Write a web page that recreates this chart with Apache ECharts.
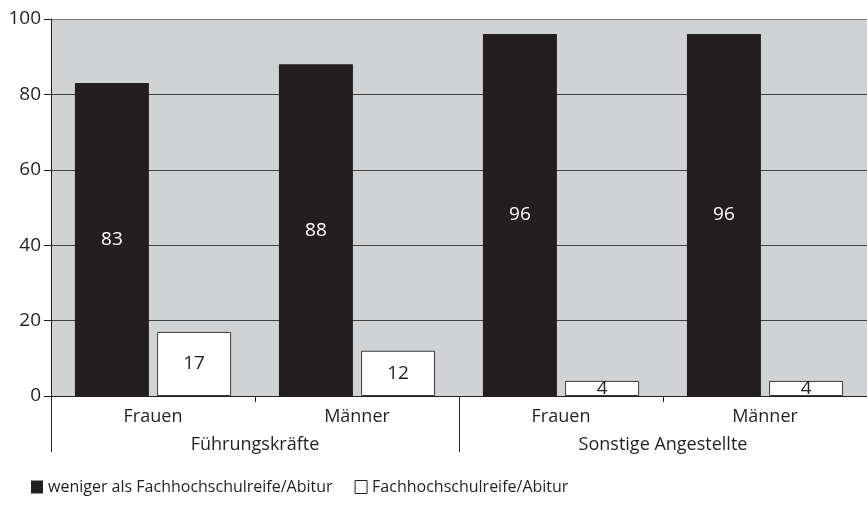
<!DOCTYPE html>
<html><head><meta charset="utf-8">
<script src="https://cdn.jsdelivr.net/npm/echarts@6/dist/echarts.min.js"></script>
<style>html,body{margin:0;padding:0;background:#fff}#c{width:867px;height:515px}</style>
</head><body><div id="c"></div>
<script>
const categories = ['Frauen', 'Männer', 'Frauen', 'Männer'];
const groups = ['Führungskräfte', 'Sonstige Angestellte'];
const seriesNames = ['weniger als Fachhochschulreife/Abitur', 'Fachhochschulreife/Abitur'];
const lowerValues = [83, 88, 96, 96];
const higherValues = [17, 12, 4, 4];

const FONT = 'Open Sans';
const INK = '#231f20';
const chart = echarts.init(document.getElementById('c'));
chart.setOption({
  animation: false,
  textStyle: { fontFamily: FONT },
  grid: { left: 51, right: 0, top: 19, bottom: 119, show: true, backgroundColor: '#d1d2d4', borderWidth: 0 },
  legend: {
    left: 26, top: 474, itemWidth: 12, itemHeight: 13, itemGap: 22,
    textStyle: { fontFamily: FONT, fontSize: 16, color: INK },
    data: [
      { name: seriesNames[0], icon: 'rect', itemStyle: { color: INK, borderWidth: 0 } },
      { name: seriesNames[1], icon: 'rect', itemStyle: { color: '#fff', borderColor: INK, borderWidth: 1 } }
    ]
  },
  xAxis: [
    {
      type: 'category', data: categories, position: 'bottom',
      axisLine: { lineStyle: { color: INK, width: 1 } },
      axisTick: { show: true, length: 6, lineStyle: { color: INK } },
      axisLabel: { fontSize: 18, color: INK, margin: 12 },
      splitLine: { show: false }
    },
    {
      type: 'category', data: groups, position: 'bottom',
      axisLine: { show: false },
      axisTick: { show: true, length: 56, lineStyle: { color: INK } },
      axisLabel: { fontSize: 18, color: INK, margin: 40 }
    }
  ],
  yAxis: {
    type: 'value', min: 0, max: 100, interval: 20,
    axisLine: { show: true, lineStyle: { color: INK } },
    axisTick: { show: true, length: 7, lineStyle: { color: INK } },
    axisLabel: { fontSize: 19, color: INK, margin: 10 },
    splitLine: { show: true, lineStyle: { color: [INK, '#404040', '#404040', '#404040', '#404040', '#7a7a7a'], width: 1 } }
  },
  series: [
    {
      name: seriesNames[0], type: 'bar', data: lowerValues, xAxisIndex: 0,
      barWidth: 74, barGap: '11%',
      itemStyle: { color: INK },
      label: { show: true, position: 'inside', color: '#fff', fontSize: 19, fontFamily: FONT }
    },
    {
      name: seriesNames[1], type: 'bar', data: higherValues, xAxisIndex: 0,
      barWidth: 74,
      itemStyle: { color: '#fff', borderColor: '#3a3a3a', borderWidth: 1 },
      label: { show: true, position: 'inside', color: INK, fontSize: 19, fontFamily: FONT }
    }
  ]
});
</script></body></html>
